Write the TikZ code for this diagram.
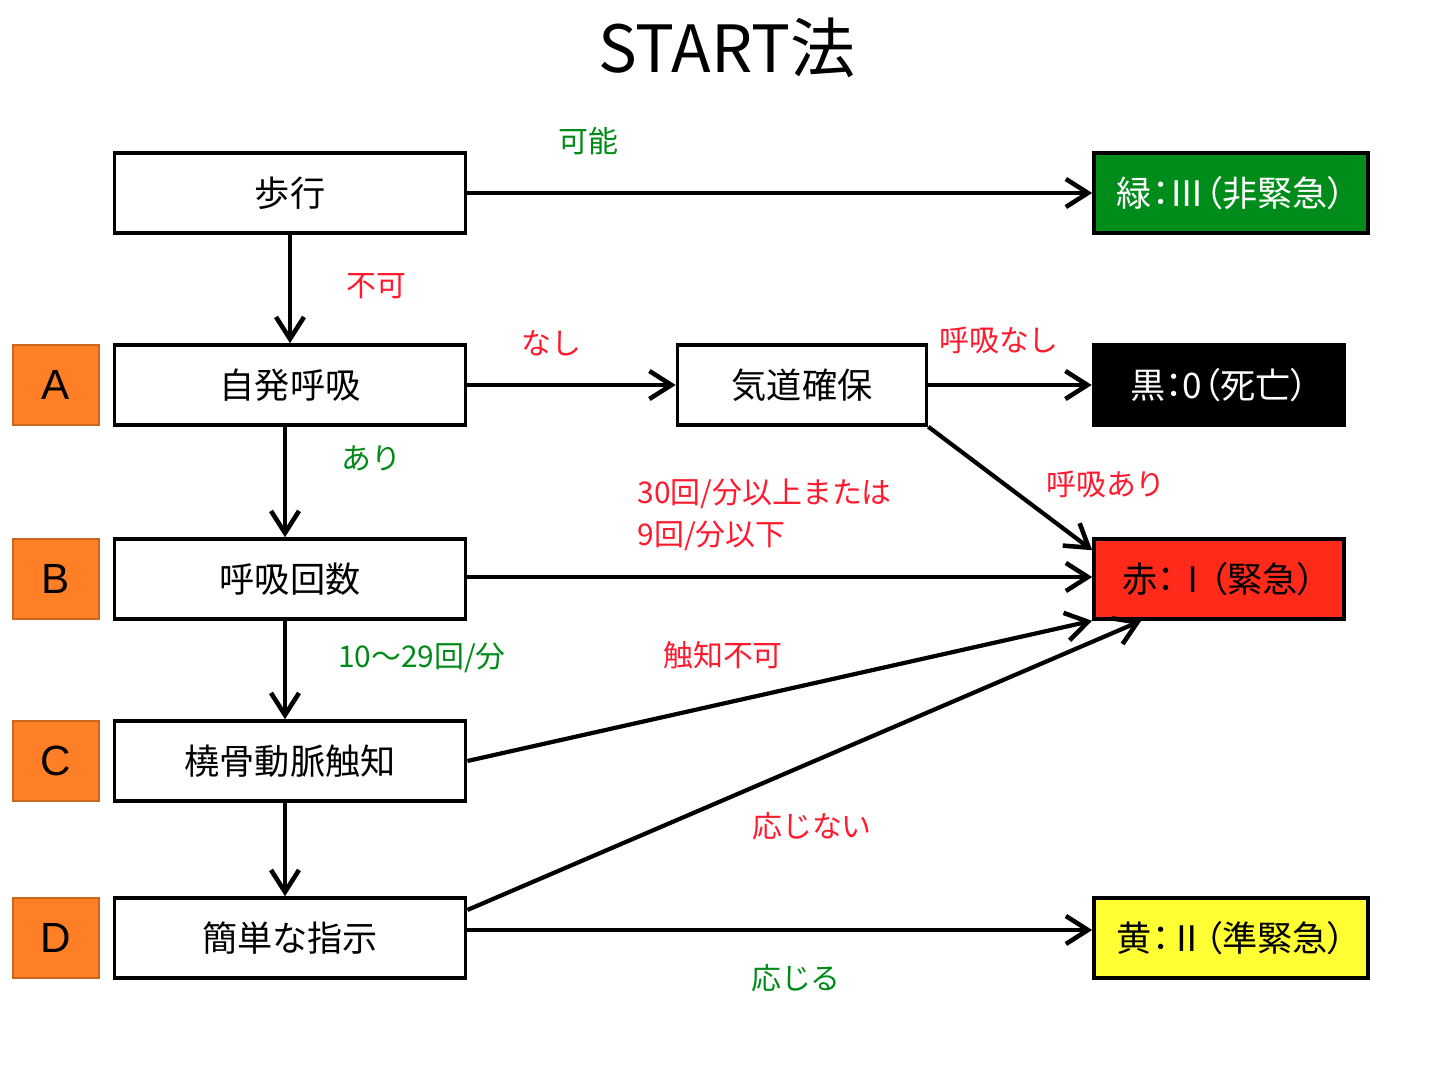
\documentclass[tikz,border=0pt]{standalone}
\usepackage{fontspec}
\setmainfont{Noto Sans CJK JP}
\newfontfamily\paltfont[RawFeature=+palt]{Noto Sans CJK JP}
\newfontfamily\abcfont{Liberation Sans}
\usetikzlibrary{arrows.meta}
\definecolor{okgreen}{HTML}{008A17}
\definecolor{ngred}{HTML}{FF1A2E}
\definecolor{tagorange}{HTML}{FF7F27}
\definecolor{boxgreen}{HTML}{008C1A}
\definecolor{boxred}{HTML}{FF2A1A}
\definecolor{boxyellow}{HTML}{FFFF33}
\tikzset{
    stepbox/.style={draw,line width=1pt,minimum width=3.51cm,minimum height=0.8cm,
        inner sep=0pt,font=\fontsize{10}{12}\selectfont},
    tagbox/.style={draw=tagorange!80!black,fill=tagorange,line width=0.6pt,minimum width=0.86cm,
        minimum height=0.8cm,inner sep=0pt,font=\abcfont\fontsize{12}{14}\selectfont},
    triage/.style={stepbox,minimum width=#1,font=\paltfont\fontsize{10}{12}\selectfont},
    yes/.style={text=okgreen,font=\fontsize{8.5}{12}\selectfont,inner sep=0pt},
    no/.style={text=ngred,font=\fontsize{8.5}{12}\selectfont,inner sep=0pt},
    flow/.style={line width=1.2pt,-{Straight Barb[length=2.2mm,width=2.8mm,line width=1.3pt]}},
}
\newcommand\tagnode[3]{\node(#1)[tagbox] at (56,#2){#3};}

\begin{document}
\begin{tikzpicture}[x=0.01cm,y=-0.01cm]
    \useasboundingbox (0,0) rectangle (1436,1076);
    \node(title)[font=\fontsize{18.5}{22}\selectfont] at (727,48){START法};

    % left column
    \node(hoko)[stepbox]  at (290,193){歩行};
    \node(jihatsu)[stepbox] at (290,385){自発呼吸};
    \node(kokyu)[stepbox] at (290,579){呼吸回数};
    \node(tokotsu)[stepbox] at (290,761){橈骨動脈触知};
    \node(shiji)[stepbox] at (290,938){簡単な指示};
    \tagnode{ta}{385}{A}
    \tagnode{tb}{579}{B}
    \tagnode{tc}{761}{C}
    \tagnode{td}{938}{D}
    \node(kido)[triage=2.49cm] at (802,385){気道確保};

    % triage colours
    \node(midori)[triage=2.74cm,fill=boxgreen,text=white] at (1231,193){緑：Ⅲ（非緊急）};
    \node(kuro)[triage=2.51cm,fill=black,text=white] at (1219,385){黒：0（死亡）};
    \node(aka)[triage=2.50cm,fill=boxred] at (1219,579){赤：Ⅰ（緊急）};
    \node(ki)[triage=2.74cm,fill=boxyellow] at (1231,938){黄：Ⅱ（準緊急）};

    % connectors
    \draw[flow] (hoko) -- (midori);
    \draw[flow] (hoko) -- (jihatsu);
    \draw[flow] (jihatsu) -- (kido);
    \draw[flow] (kido) -- (kuro);
    \draw[flow] (kido.south east) -- ([yshift=-0.13cm]aka.north west);
    \draw[flow] ([xshift=-0.05cm]jihatsu.south) -- ([xshift=-0.05cm]kokyu.north);
    \draw[flow] ([yshift=0.02cm]kokyu.east) -- ([yshift=0.02cm]aka.west);
    \draw[flow] ([xshift=-0.05cm]kokyu.south) -- ([xshift=-0.05cm]tokotsu.north);
    \draw[flow] (tokotsu.east) -- (aka.south west);
    \draw[flow] ([xshift=-0.05cm]tokotsu.south) -- ([xshift=-0.05cm]shiji.north);
    \draw[flow] ([yshift=0.28cm]shiji.east) -- ([xshift=0.49cm]aka.south west);
    \draw[flow] ([yshift=0.08cm]shiji.east) -- ([yshift=0.08cm]ki.west);

    % labels
    \node(lkano)[yes] at (588,141){可能};
    \node(lfuka)[no] at (376,286){不可};
    \node(lnashi)[no] at (551,343){なし};
    \node(lkokyunashi)[no] at (999,340){呼吸なし};
    \node(lari)[yes] at (371,458){あり};
    \node(lkokyuari)[no] at (1106,484){呼吸あり};
    \node(lrate)[no,anchor=west,align=left] at (637,515){30回/分以上または\\9回/分以下};
    \node(lnormal)[yes] at (422,658){10～29回/分};
    \node(lshokuchi)[no] at (723,655){触知不可};
    \node(lojinai)[no] at (812,826){応じない};
    \node(lojiru)[yes] at (796,978){応じる};
\end{tikzpicture}
\end{document}
